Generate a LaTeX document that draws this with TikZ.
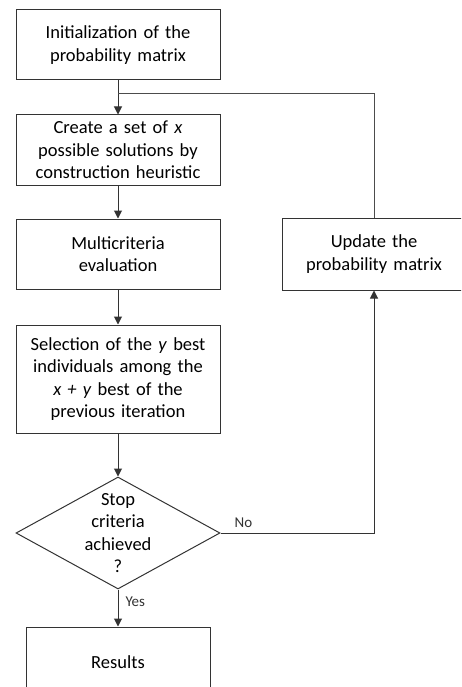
\documentclass[tikz,border=0pt]{standalone}
\usepackage{fontspec}
\setmainfont{Carlito}
\usetikzlibrary{arrows.meta, positioning, shapes.geometric, calc}

\begin{document}
\begin{tikzpicture}[
    x=1pt, y=1pt,
    node distance=34pt and 61pt,
    every node/.style={font=\fontsize{18.5}{22.5}\selectfont},
    box/.style={draw=black!80, line width=1pt, minimum width=#1, text width=#1-16pt, align=center, inner sep=0pt, minimum height=70pt},
    box/.default=204pt,
    decision/.style={draw=black!80, line width=1pt, diamond, minimum width=204pt, minimum height=112pt, inner sep=0pt},
    lbl/.style={font=\fontsize{15}{17}\selectfont, inner sep=1pt},
    arr/.style={-{Triangle[length=8pt, width=8pt]}, line width=1pt, color=black!80},
    line/.style={line width=1pt, color=black!70},
]
    \clip (0,0) rectangle (461,-687);

    % Main column
    \node[box] (init) at (118,-45) {Initialization of the\\probability matrix};
    \node[box, below=34pt of init] (create) {Create a set of \textit{x}\\possible solutions by\\construction heuristic};
    \node[box, below=33pt of create] (multi) {Multicriteria\\evaluation};
    \node[box, below=35pt of multi, minimum height=108pt] (select) {Selection of the \textit{y} best\\individuals among the\\\textit{x + y} best of the\\previous iteration};
    \node[decision, below=43pt of select] (stop) {};
    \node[align=center] at (stop) {Stop\\criteria\\achieved\\?};
    \node[box=184pt, below=37pt of stop] (results) {Results};

    % Feedback loop
    \node[box=184pt, right=61pt of multi, minimum height=72pt] (update) {Update the\\probability matrix};
    \coordinate[below=12.7pt of init.south] (join);

    % Arrows
    \draw[arr] (init) -- (create);
    \draw[arr] (create) -- (multi);
    \draw[arr] (multi) -- (select);
    \draw[arr] (select) -- (stop);
    \draw[arr] (stop) -- node[lbl, right, pos=0.32, xshift=6pt] {Yes} (results);
    \draw[arr] (stop.east) -| node[lbl, above, pos=0.075, yshift=4pt] {No} (update);
    \draw[line] (update) |- (join);
\end{tikzpicture}
\end{document}
